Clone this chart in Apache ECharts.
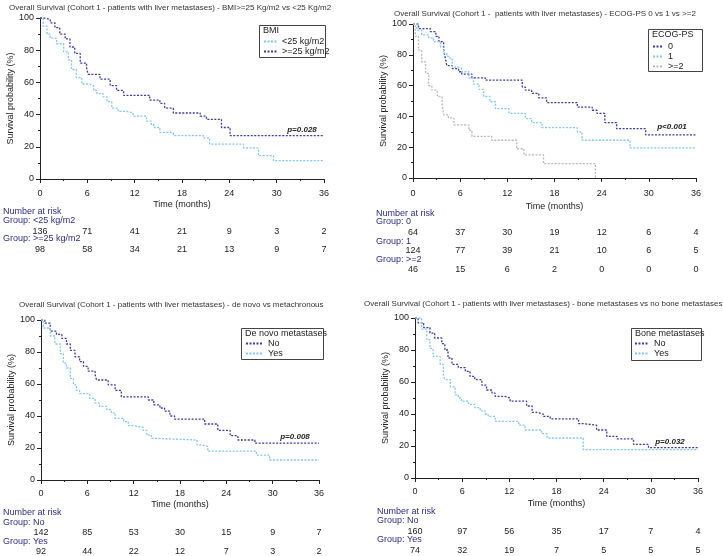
<!DOCTYPE html>
<html><head><meta charset="utf-8">
<script src="https://cdn.jsdelivr.net/npm/echarts@6/dist/echarts.min.js"></script>
<style>html,body{margin:0;padding:0;background:#fff}#c{width:723px;height:556px}</style>
</head><body><div id="c"></div>
<script>
// ---------- data ----------
const months = [0, 6, 12, 18, 24, 30, 36];

// Panel 1: BMI
const bmiLow = [[0,100],[0.4,95],[0.9,90],[1.3,87.5],[2.1,84],[3.0,79],[3.6,74],[4.0,68],[4.6,63],[5.3,59],[6.3,58],[6.8,55],[7.2,53],[8.0,51],[8.5,48],[9.1,44],[9.9,42],[11.0,41],[11.8,39],[13.5,36],[14.1,34],[14.4,32],[15.2,29],[16.5,28.5],[16.9,27],[20.7,25.5],[21.5,21.7],[25.8,19.3],[27.7,14.5],[29.6,11.4],[36,11.4]];
const bmiHigh = [[0,100],[0.6,99],[1.3,97],[1.9,94],[2.5,90],[3.2,87],[3.8,82],[4.4,78],[5.1,72],[5.9,69],[6.1,65],[7.6,62],[8.9,58],[9.7,55],[10.6,52],[13.9,49],[15.2,47],[15.8,44],[16.9,41],[20.3,39],[21.1,37],[23.0,32],[24.1,27],[36,27]];
const riskBmiLow = [136, 71, 41, 21, 9, 3, 2];
const riskBmiHigh = [98, 58, 34, 21, 13, 9, 7];

// Panel 2: ECOG-PS
const ecog0 = [[0,100],[0.7,97],[2.2,95],[2.9,92],[3.3,88.5],[3.9,83],[4.1,78],[4.3,73],[5.0,71],[5.8,69],[6.2,67.5],[7.5,65],[9.2,63.5],[13.9,59],[14.3,57],[15.1,55],[16.0,52],[17.0,49],[20.9,46],[22.8,44],[23.4,42],[24.4,36],[25.9,32],[29.6,28],[36,28]];
const ecog1 = [[0,100],[0.5,96],[1.1,93],[2.0,91],[2.6,88.5],[3.5,85],[3.9,81],[4.3,79],[4.7,77],[5.0,72],[5.8,71],[6.2,69],[7.1,65],[7.7,61],[8.4,57.5],[9.0,53],[9.8,49.5],[10.5,45],[12.2,42],[14.3,38.6],[15.1,36],[16.4,32.7],[20.9,30],[21.5,24.5],[27.6,19.5],[36,19.5]];
const ecog2 = [[0,100],[0.3,92],[0.7,83],[1.1,75.5],[1.6,68],[2.0,60],[2.4,57],[3.1,53],[3.7,48],[3.9,41],[4.5,39],[5.2,34.5],[7.1,31],[7.5,27],[10.0,24.5],[13.2,19],[14.1,15],[16.6,9.3],[23.2,0]];
const riskEcog0 = [64, 37, 30, 19, 12, 6, 4];
const riskEcog1 = [124, 77, 39, 21, 10, 6, 5];
const riskEcog2 = [46, 15, 6, 2, 0, 0, 0];

// Panel 3: De novo metastases
const denovoNo = [[0,100],[0.5,98],[1.2,93],[2.0,91],[2.7,88.5],[3.3,85],[3.8,81],[4.4,77],[5.0,74],[5.5,71],[6.1,68],[7.0,66],[7.2,62.5],[8.7,59.5],[9.6,56],[10.4,52],[13.9,50],[14.6,47],[15.4,45],[16.0,43],[16.7,40],[17.3,38],[21.2,35],[22.9,31],[24.5,27.7],[25.5,25],[27.7,23],[36,23]];
const denovoYes = [[0,100],[0.3,95],[1.2,90],[1.8,85],[2.5,79],[2.9,73],[3.3,70],[3.8,63.5],[4.2,59.5],[4.6,56],[5.0,54],[6.3,51],[7.0,48],[7.6,46],[8.5,44],[9.1,42],[9.6,38.5],[10.7,36.5],[11.3,34],[12.0,33],[13.2,31],[13.7,28],[14.3,26],[15.0,25],[20.2,22],[20.8,21],[21.6,18],[27.9,15.6],[29.6,12.5],[36,12.5]];
const riskDenovoNo = [142, 85, 53, 30, 15, 9, 7];
const riskDenovoYes = [92, 44, 22, 12, 7, 3, 2];

// Panel 4: Bone metastases
const boneNo = [[0,100],[0.4,97],[1.1,94],[1.9,90.6],[2.5,87.5],[3.4,84],[3.8,80],[4.2,75],[4.7,71],[5.5,69],[6.4,66.7],[7.0,63.5],[7.6,61.5],[8.5,58],[9.1,55],[9.8,53],[10.2,51],[11.5,50],[12.1,48],[14.2,45],[14.9,41],[15.5,40],[16.3,38.5],[17.2,37],[20.8,34],[21.4,33],[23.1,30],[24.4,26],[25.7,24.4],[27.8,21],[29.7,19],[36,19]];
const boneYes = [[0,100],[0.85,93],[1.5,86.5],[1.9,81],[2.3,76],[3.2,71],[3.6,64.5],[3.8,61.5],[4.5,57],[5.1,52],[5.5,50],[5.9,48],[6.8,46],[7.6,44],[8.3,42],[8.9,40],[9.3,38.5],[10.2,35.4],[13.2,33],[14.0,30],[16.1,27.7],[16.8,25],[21.4,17.7],[36,17.7]];
const riskBoneNo = [160, 97, 56, 35, 17, 7, 4];
const riskBoneYes = [74, 32, 19, 7, 5, 5, 5];

// ---------- styling / layout ----------
const DARK = '#3d3d9c', LIGHT = '#82c6f2', GRAY = '#b8b8b8', NAVY = '#2c2c86';
const FONT = 'Liberation Sans, Arial, sans-serif';

const panels = [
  { title: 'Overall Survival (Cohort 1 - patients with liver metastases) - BMI>=25 Kg/m2 vs <25 Kg/m2', tx: 9, ty: 8,
    grid: {left: 40, top: 18, width: 284, height: 161}, yGap: 13, xMargin: 10, xNameGap: 21,
    legendTitle: 'BMI', box: [259, 25, 66, 32], legendPos: [263, 37], iconW: 13,
    series: [['<25 kg/m2', bmiLow, LIGHT], ['>=25 kg/m2', bmiHigh, DARK]],
    risk: [['Group: <25 kg/m2', riskBmiLow, 221, 232], ['Group: >=25 kg/m2', riskBmiHigh, 239, 250]],
    nar: [3, 212], p: ['p=0.028', 302, 130] },
  { title: 'Overall Survival (Cohort 1 -  patients with liver metastases) - ECOG-PS 0 vs 1 vs >=2', tx: 394, ty: 14,
    grid: {left: 413, top: 24, width: 283, height: 154}, yGap: 20, xMargin: 11, xNameGap: 24,
    legendTitle: 'ECOG-PS', box: [648, 29, 54, 42], legendPos: [652, 42], iconW: 10,
    series: [['0', ecog0, DARK], ['1', ecog1, LIGHT], ['>=2', ecog2, GRAY]],
    risk: [['Group: 0', riskEcog0, 222, 233], ['Group: 1', riskEcog1, 242, 251], ['Group: >=2', riskEcog2, 260, 270]],
    nar: [376, 214], p: ['p<0.001', 672, 127] },
  { title: 'Overall Survival (Cohort 1 - patients with liver metastases) - de novo vs metachronous', tx: 19, ty: 305,
    grid: {left: 41, top: 320, width: 278, height: 160}, yGap: 18, xMargin: 9, xNameGap: 20,
    legendTitle: 'De novo metastases', box: [241, 328, 82, 31], legendPos: [245, 339], iconW: 17,
    series: [['No', denovoNo, DARK], ['Yes', denovoYes, LIGHT]],
    risk: [['Group: No', riskDenovoNo, 523, 533], ['Group: Yes', riskDenovoYes, 542, 552]],
    nar: [3, 513], p: ['p=0.008', 295, 437] },
  { title: 'Overall Survival (Cohort 1 - patients with liver metastases) - bone metastases vs no bone metastases', tx: 364, ty: 304,
    grid: {left: 415, top: 318, width: 283, height: 160}, yGap: 21, xMargin: 9, xNameGap: 21,
    legendTitle: 'Bone metastases', box: [631, 328, 70, 32], legendPos: [634, 339], iconW: 14,
    series: [['No', boneNo, DARK], ['Yes', boneYes, LIGHT]],
    risk: [['Group: No', riskBoneNo, 521, 532], ['Group: Yes', riskBoneYes, 540, 551]],
    nar: [377, 512], p: ['p=0.032', 670, 442] }
];

const option = {
  backgroundColor: '#fff', animation: false,
  textStyle: {fontFamily: FONT},
  grid: [], xAxis: [], yAxis: [], series: [], legend: [], graphic: []
};

panels.forEach((P, gi) => {
  option.grid.push(Object.assign({containLabel: false}, P.grid));
  const mainX = option.xAxis.length;
  option.xAxis.push({
    gridIndex: gi, type: 'value', min: 0, max: 36, interval: 6,
    name: 'Time (months)', nameLocation: 'middle', nameGap: P.xNameGap,
    nameTextStyle: {fontSize: 9, color: '#222', fontFamily: FONT},
    axisLine: {lineStyle: {color: '#222', width: 1}},
    axisTick: {length: 4, lineStyle: {color: '#222'}},
    minorTick: {show: true, splitNumber: 2, length: 2, lineStyle: {color: '#222'}},
    splitLine: {show: false},
    axisLabel: {fontSize: 9, color: '#222', margin: P.xMargin, fontFamily: FONT}
  });
  option.yAxis.push({
    gridIndex: gi, type: 'value', min: 0, max: 100, interval: 20,
    name: 'Survival probability (%)', nameLocation: 'middle', nameGap: P.yGap, nameRotate: 90,
    nameTextStyle: {fontSize: 9, color: '#222', fontFamily: FONT},
    axisLine: {show: true, lineStyle: {color: '#222', width: 1}},
    axisTick: {show: true, length: 4, lineStyle: {color: '#222'}},
    minorTick: {show: true, splitNumber: 2, length: 2, lineStyle: {color: '#222'}},
    splitLine: {show: false},
    axisLabel: {fontSize: 9, color: '#222', margin: 6, fontFamily: FONT}
  });
  const bottom = P.grid.top + P.grid.height;
  // number-at-risk rows as extra axes
  P.risk.forEach(r => {
    const vals = r[1];
    option.xAxis.push({
      gridIndex: gi, type: 'value', min: 0, max: 36, interval: 6, position: 'bottom',
      offset: r[3] - bottom - 5,
      axisLine: {show: false}, axisTick: {show: false}, splitLine: {show: false},
      axisLabel: {fontSize: 9, color: '#222', margin: 0, fontFamily: FONT, showMinLabel: true, showMaxLabel: true,
        formatter: v => String(vals[months.indexOf(v)])}
    });
    option.graphic.push({type: 'text', x: P.nar[0], y: r[2], style: {text: r[0], font: '9px ' + FONT, fill: NAVY, verticalAlign: 'middle'}});
  });
  option.graphic.push({type: 'text', x: P.nar[0], y: P.nar[1], style: {text: 'Number at risk', font: '9px ' + FONT, fill: NAVY, verticalAlign: 'middle'}});
  option.graphic.push({type: 'text', x: P.tx, y: P.ty, style: {text: P.title, font: '8px ' + FONT, fill: '#333', verticalAlign: 'middle'}});
  option.graphic.push({type: 'text', x: P.p[1], y: P.p[2], style: {text: P.p[0], font: 'italic bold 8px ' + FONT, fill: '#222', align: 'center', verticalAlign: 'middle'}});
  option.graphic.push({type: 'rect', z: -1, shape: {x: P.box[0] + 0.5, y: P.box[1] + 0.5, width: P.box[2], height: P.box[3]}, style: {fill: '#fff', stroke: '#444', lineWidth: 1}});
  option.graphic.push({type: 'text', x: P.box[0] + 4, y: P.box[1] + 6, style: {text: P.legendTitle, font: '9px ' + FONT, fill: '#222', verticalAlign: 'middle'}});
  const names = [];
  P.series.forEach(s => {
    const nm = gi + '|' + s[0];
    names.push(nm);
    option.series.push({
      name: nm, type: 'line', step: 'end', xAxisIndex: mainX, yAxisIndex: gi,
      data: s[1], symbol: 'none', showSymbol: false, z: 3,
      lineStyle: {color: s[2], width: 1.3, type: [2, 1.5]}, itemStyle: {color: s[2]}
    });
  });
  option.legend.push({
    data: names, orient: 'vertical', left: P.legendPos[0], top: P.legendPos[1],
    itemWidth: P.iconW, itemHeight: 8, itemGap: 1, padding: 0, selectedMode: false,
    itemStyle: {opacity: 0},
    textStyle: {fontSize: 9, color: '#222', fontFamily: FONT, lineHeight: 8},
    formatter: n => n.split('|')[1]
  });
});

const chart = echarts.init(document.getElementById('c'), null, {renderer: 'canvas'});
chart.setOption(option);
</script></body></html>
